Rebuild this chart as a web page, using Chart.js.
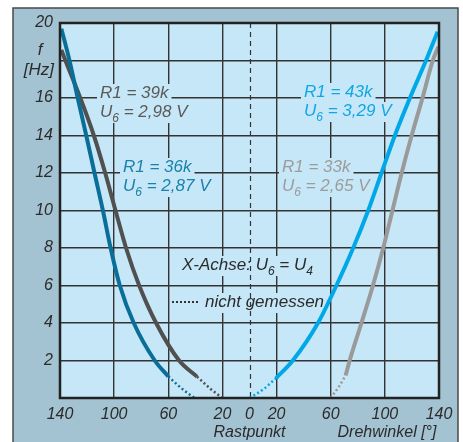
<!DOCTYPE html>
<html>
<head>
<meta charset="utf-8">
<script src="https://cdn.jsdelivr.net/npm/chart.js@4.4.0/dist/chart.umd.min.js"></script>
<style>
  body { margin: 0; background: #fff; }
  canvas { display: block; }
</style>
</head>
<body>
<canvas id="chart" width="463" height="442"></canvas>
<script>
// Winkel links vom Rastpunkt als negative Werte
const xTicks = [-140, -100, -60, -20, 0, 20, 60, 100, 140];

// R1 = 36k (dunkelblau)
const r36X = [-139, -133, -126.9, -120.6, -114.5, -108.3, -102.6, -95.8, -85.5, -70, -60];
const r36Y = [19.7, 18, 16, 14, 12, 10, 8, 6, 4, 2, 1.15];
const r36DotX = [-60, -50, -40.7];
const r36DotY = [1.15, 0.5, 0];

// R1 = 39k (dunkelgrau)
const r39X = [-139, -136, -125, -115, -106.6, -99, -91.2, -81.5, -69, -52, -38.8];
const r39Y = [18.56, 18, 16, 14, 12, 10, 8, 6, 4, 2, 1.14];
const r39DotX = [-38.8, -29, -20];
const r39DotY = [1.14, 0.5, 0];

// R1 = 43k (hellblau)
const r43X = [19.5, 32, 50.6, 64.2, 76.6, 87.7, 97.5, 107.4, 118.5, 130.4, 139];
const r43Y = [1.05, 2, 4, 6, 8, 10, 12, 14, 16, 18, 19.54];
const r43DotX = [0, 10, 19.5];
const r43DotY = [0, 0.45, 1.05];

// R1 = 33k (hellgrau)
const r33X = [71, 74, 82.7, 91.2, 98.8, 105.6, 112.4, 119.8, 127.8, 135.4, 139.5];
const r33Y = [1.2, 2, 4, 6, 8, 10, 12, 14, 16, 18, 18.74];
const r33DotX = [60, 66, 71];
const r33DotY = [0, 0.6, 1.2];

const FONT = "'Liberation Sans', Arial, sans-serif";
const TXT = "#2b2b2b";

function pts(xs, ys) {
  return xs.map((x, i) => ({ x: x, y: ys[i] }));
}

function solid(xs, ys, color) {
  return {
    data: pts(xs, ys), borderColor: color, borderWidth: 4,
    showLine: true, pointRadius: 0, cubicInterpolationMode: "monotone",
    borderCapStyle: "butt"
  };
}

function dotted(xs, ys, color) {
  return {
    data: pts(xs, ys), borderColor: color, borderWidth: 2.5, borderDash: [2, 2.5],
    showLine: true, pointRadius: 0, cubicInterpolationMode: "monotone"
  };
}

// Beschriftungen im Diagramm: Teile mit sub = Index
const labels = [
  { x: 100, y: 93, color: "#5a5a5a", parts: [{ t: "R1 = 39k" }] },
  { x: 100, y: 112, color: "#5a5a5a", parts: [{ t: "U" }, { t: "6", sub: true }, { t: " = 2,98 V" }] },
  { x: 123, y: 167, color: "#1a82ad", parts: [{ t: "R1 = 36k" }] },
  { x: 123, y: 186, color: "#1a82ad", parts: [{ t: "U" }, { t: "6", sub: true }, { t: " = 2,87 V" }] },
  { x: 304, y: 92, color: "#12a6e4", parts: [{ t: "R1 = 43k" }] },
  { x: 304, y: 111, color: "#12a6e4", parts: [{ t: "U" }, { t: "6", sub: true }, { t: " = 3,29 V" }] },
  { x: 282, y: 167, color: "#9c9c9c", parts: [{ t: "R1 = 33k" }] },
  { x: 282, y: 186, color: "#9c9c9c", parts: [{ t: "U" }, { t: "6", sub: true }, { t: " = 2,65 V" }] },
  { x: 182, y: 265, color: TXT, parts: [{ t: "X-Achse: U" }, { t: "6", sub: true }, { t: " = U" }, { t: "4", sub: true }] },
  { x: 205, y: 302, color: TXT, parts: [{ t: "nicht gemessen" }] }
];

function drawParts(ctx, lab) {
  const big = "italic 17px " + FONT;
  const small = "italic 12px " + FONT;
  let w = 0;
  lab.parts.forEach(p => {
    ctx.font = p.sub ? small : big;
    w += ctx.measureText(p.t).width;
  });
  ctx.fillStyle = "#c6e7f7";
  ctx.fillRect(lab.x - 3, lab.y - 9, w + 6, 20);
  let x = lab.x;
  ctx.fillStyle = lab.color;
  ctx.textBaseline = "middle";
  ctx.textAlign = "left";
  lab.parts.forEach(p => {
    ctx.font = p.sub ? small : big;
    ctx.fillText(p.t, x, p.sub ? lab.y + 7 : lab.y);
    x += ctx.measureText(p.t).width;
  });
}

const framePlugin = {
  id: "frame",
  beforeDraw(chart) {
    const ctx = chart.ctx;
    const a = chart.chartArea;
    ctx.save();
    ctx.fillStyle = "#fff";
    ctx.fillRect(0, 0, chart.width, chart.height);
    ctx.fillStyle = "#a3c2d2";
    ctx.fillRect(13, 8, 445, 434);
    ctx.strokeStyle = "#4a4a4a";
    ctx.lineWidth = 1.5;
    ctx.beginPath();
    ctx.moveTo(13, 442);
    ctx.lineTo(13, 8);
    ctx.lineTo(458, 8);
    ctx.lineTo(458, 442);
    ctx.stroke();
    ctx.fillStyle = "#c6e7f7";
    ctx.fillRect(a.left, a.top, a.right - a.left, a.bottom - a.top);
    ctx.restore();
  },
  beforeDatasetsDraw(chart) {
    const ctx = chart.ctx;
    const a = chart.chartArea;
    const xs = chart.scales.x;
    ctx.save();
    labels.forEach(l => drawParts(ctx, l));
    // gestrichelte Linie am Rastpunkt
    const x0 = Math.round(xs.getPixelForValue(0)) + 0.5;
    ctx.strokeStyle = "#333";
    ctx.lineWidth = 1.2;
    ctx.setLineDash([5, 4]);
    ctx.beginPath();
    ctx.moveTo(x0, a.top);
    ctx.lineTo(x0, a.bottom);
    ctx.stroke();
    // Legende "nicht gemessen"
    ctx.setLineDash([2, 2]);
    ctx.lineWidth = 2;
    ctx.beginPath();
    ctx.moveTo(172, 302);
    ctx.lineTo(200, 302);
    ctx.stroke();
    ctx.restore();
  },
  afterDraw(chart) {
    const ctx = chart.ctx;
    const a = chart.chartArea;
    ctx.save();
    ctx.strokeStyle = "#222";
    ctx.lineWidth = 2.5;
    ctx.strokeRect(a.left, a.top, a.right - a.left, a.bottom - a.top);
    ctx.fillStyle = TXT;
    ctx.font = "italic 17px " + FONT;
    ctx.textBaseline = "middle";
    ctx.textAlign = "center";
    ctx.fillText("f", 40, 50);
    ctx.textAlign = "right";
    ctx.fillText("[Hz]", 54, 70);
    ctx.textAlign = "center";
    ctx.font = "italic 16px " + FONT;
    ctx.fillText("Rastpunkt", chart.scales.x.getPixelForValue(0), 433);
    ctx.fillText("Drehwinkel [°]", 387, 433);
    ctx.restore();
  }
};

new Chart(document.getElementById("chart"), {
  type: "scatter",
  data: {
    datasets: [
      solid(r36X, r36Y, "#0a6f98"),
      dotted(r36DotX, r36DotY, "#0a6f98"),
      solid(r39X, r39Y, "#505050"),
      dotted(r39DotX, r39DotY, "#505050"),
      solid(r43X, r43Y, "#00a8e8"),
      dotted(r43DotX, r43DotY, "#00a8e8"),
      solid(r33X, r33Y, "#9a9a9a"),
      dotted(r33DotX, r33DotY, "#9a9a9a")
    ]
  },
  options: {
    responsive: false,
    animation: false,
    layout: { padding: { top: 23, right: 24, left: 0, bottom: 0 } },
    plugins: { legend: { display: false }, tooltip: { enabled: false } },
    scales: {
      x: {
        type: "linear", min: -140, max: 140,
        afterBuildTicks: s => { s.ticks = xTicks.map(v => ({ value: v })); },
        afterFit: s => { s.height = 44; },
        grid: {
          drawTicks: false, lineWidth: 1.4,
          color: c => (c.tick && (c.tick.value === 0 || Math.abs(c.tick.value) === 140)) ? "rgba(0,0,0,0)" : "#333"
        },
        border: { display: false },
        ticks: {
          padding: 7, color: TXT, maxRotation: 0, autoSkip: false,
          font: { family: FONT, size: 16, style: "italic" },
          callback: v => Math.abs(v)
        }
      },
      y: {
        min: 0, max: 20,
        afterFit: s => { s.width = 60; },
        grid: {
          drawTicks: false, lineWidth: 1.4,
          color: c => (c.tick && (c.tick.value === 0 || c.tick.value === 20)) ? "rgba(0,0,0,0)" : "#333"
        },
        border: { display: false },
        ticks: {
          stepSize: 2, padding: 7, color: TXT,
          font: { family: FONT, size: 16, style: "italic" },
          callback: v => (v === 0 || v === 18) ? "" : v
        }
      }
    }
  },
  plugins: [framePlugin]
});
</script>
</body>
</html>
